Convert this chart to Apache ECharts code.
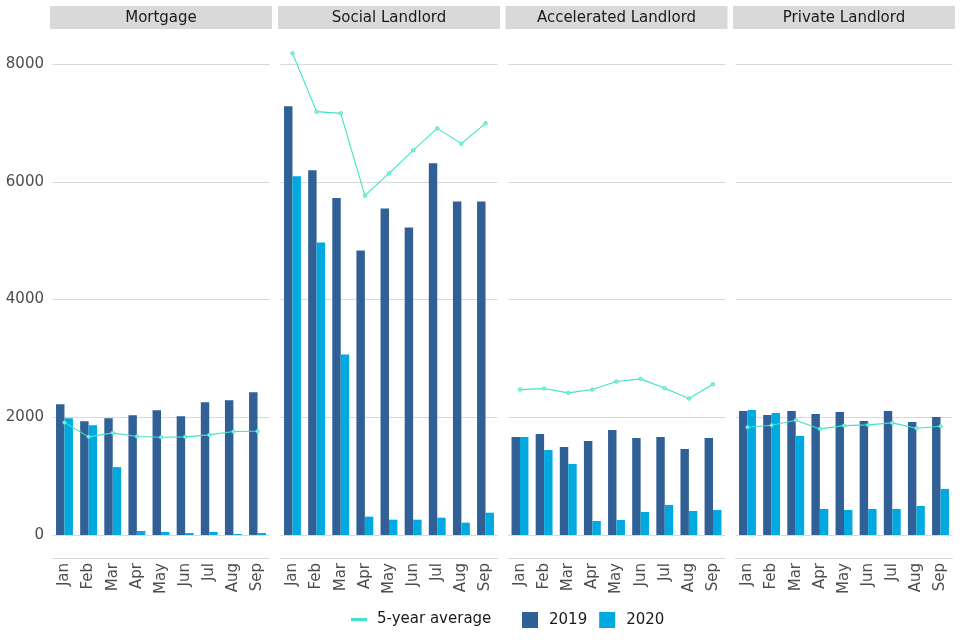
<!DOCTYPE html>
<html>
<head>
<meta charset="utf-8">
<script src="https://cdn.jsdelivr.net/npm/echarts@6/dist/echarts.min.js"></script>
<style>html,body{margin:0;padding:0;background:#fff}#c{width:960px;height:640px}</style>
</head>
<body>
<div id="c"></div>
<script>
const months = ['Jan','Feb','Mar','Apr','May','Jun','Jul','Aug','Sep'];
const panels = ['Mortgage','Social Landlord','Accelerated Landlord','Private Landlord'];

const mortgage2019 = [2220,1932,1983,2034,2119,2017,2254,2288,2424];
const mortgage2020 = [1983,1864,1153,68,51,34,51,17,34];
const mortgageAvg  = [1910,1667,1734,1672,1661,1667,1700,1757,1763];

const social2019 = [7281,6194,5725,4831,5545,5222,6313,5664,5664];
const social2020 = [6092,4967,3064,311,260,260,294,209,379];
const socialAvg  = [8182,7191,7162,5764,6143,6534,6907,6647,6992];

const accel2019 = [1666,1717,1496,1598,1785,1649,1666,1462,1649];
const accel2020 = [1666,1445,1207,238,255,391,510,408,425];
const accelAvg  = [2470,2487,2414,2470,2606,2652,2493,2317,2561];

const private2019 = [2108,2040,2108,2057,2091,1938,2108,1921,2006];
const private2020 = [2125,2074,1683,442,425,442,442,493,782];
const privateAvg  = [1830,1864,1949,1802,1858,1870,1904,1813,1847];

const yTicks = [0,2000,4000,6000,8000];

const series2019 = [mortgage2019, social2019, accel2019, private2019];
const series2020 = [mortgage2020, social2020, accel2020, private2020];
const seriesAvg  = [mortgageAvg, socialAvg, accelAvg, privateAvg];

const FONT = 'DejaVu Sans';
const C2019 = '#306095', C2020 = '#00a9e0', CAVG = '#3fe3c5';
const GRIDC = '#d9d9d9';
const panelLeft = [50, 278, 505.5, 733];
const panelW = 222;
// discrete axis expansion like ggplot: 0.6 units each side of 9 categories
const unit = panelW / (months.length - 1 + 1.2);
const inset = 0.1 * unit;

const grids = [], xAxes = [], yAxes = [], series = [], graphics = [];
panels.forEach((name, i) => {
  grids.push({left: panelLeft[i] + inset, width: panelW - 2 * inset, top: 64, height: 471, containLabel: false});
  xAxes.push({
    type: 'category', gridIndex: i, data: months, offset: 23,
    axisLine: {onZero: false, lineStyle: {color: GRIDC, width: 1}},
    axisTick: {alignWithLabel: true, length: 4, lineStyle: {color: GRIDC}},
    axisLabel: {rotate: 90, fontSize: 15, color: '#4d4d4d', fontFamily: FONT, margin: 5},
    splitLine: {show: false}
  });
  yAxes.push({
    type: 'value', gridIndex: i, min: yTicks[0], max: yTicks[yTicks.length-1], interval: 2000,
    axisLine: {show: false}, axisTick: {show: false},
    axisLabel: {show: i === 0, fontSize: 15, color: '#4d4d4d', fontFamily: FONT, margin: 6 + inset,
                formatter: v => String(v)},
    splitLine: {show: true, lineStyle: {color: GRIDC, width: 1}}
  });
  series.push({
    name: '2019', type: 'bar', xAxisIndex: i, yAxisIndex: i, data: series2019[i],
    itemStyle: {color: C2019}, barGap: '0%', barCategoryGap: '30%'
  });
  series.push({
    name: '2020', type: 'bar', xAxisIndex: i, yAxisIndex: i, data: series2020[i],
    itemStyle: {color: C2020}, barGap: '0%', barCategoryGap: '30%'
  });
  series.push({
    name: '5-year average', type: 'line', xAxisIndex: i, yAxisIndex: i, data: seriesAvg[i],
    clip: false, z: 5, symbol: 'circle', symbolSize: 3.5, showSymbol: true,
    lineStyle: {color: CAVG, width: 1.1}, itemStyle: {color: '#8cf0dc', borderColor: CAVG, borderWidth: 0.8},
    emphasis: {disabled: true}
  });
  graphics.push({
    type: 'group', left: panelLeft[i], top: 6,
    children: [
      {type: 'rect', shape: {x: 0, y: 0, width: panelW, height: 23}, style: {fill: '#d9d9d9'}},
      {type: 'text', x: panelW/2, y: 12, style: {text: name, fill: '#1a1a1a', font: '15px "DejaVu Sans"', align: 'center', verticalAlign: 'middle'}}
    ]
  });
});

const chart = echarts.init(document.getElementById('c'), null, {renderer: 'canvas'});
chart.setOption({
  animation: false,
  backgroundColor: '#ffffff',
  textStyle: {fontFamily: FONT},
  grid: grids, xAxis: xAxes, yAxis: yAxes, series: series,
  graphic: graphics,
  legend: [
    {
      data: [{name: '5-year average', icon: 'rect', itemStyle: {color: CAVG}}],
      left: 351, top: 612, padding: 0, itemWidth: 14, itemHeight: 1.2,
      textStyle: {fontSize: 15, color: '#1a1a1a', fontFamily: FONT, padding: [0,0,0,6]},
      selectedMode: false
    },
    {
      data: [{name: '2019', icon: 'rect'}, {name: '2020', icon: 'rect'}],
      left: 522, top: 612, padding: 0, itemWidth: 16, itemHeight: 16, itemGap: 12,
      textStyle: {fontSize: 15, color: '#1a1a1a', fontFamily: FONT, padding: [0,0,0,6]},
      selectedMode: false
    }
  ]
});
</script>
</body>
</html>
